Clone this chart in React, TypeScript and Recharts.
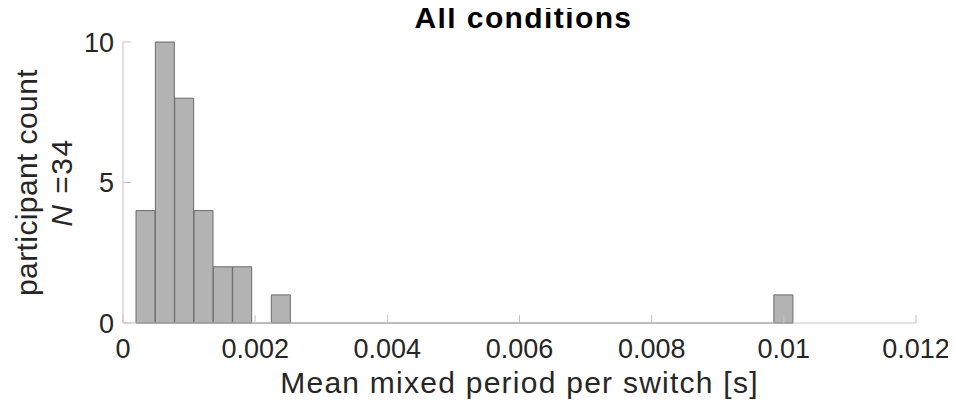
import { Bar, BarChart, Label, ReferenceLine, XAxis, YAxis } from 'recharts';

// histogram counts per bin (34 bins)
const counts = [
  4, 10, 8, 4, 2, 2, 0, 1, 0, 0,
  0, 0, 0, 0, 0, 0, 0, 0, 0, 0,
  0, 0, 0, 0, 0, 0, 0, 0, 0, 0,
  0, 0, 0, 1,
];
const binStart = 0.000197;
const binWidth = 0.0002925;
const xTicks = [0, 0.002, 0.004, 0.006, 0.008, 0.01, 0.012];
const yTicks = [0, 5, 10];

const data = counts.map((count, i) => ({ center: binStart + (i + 0.5) * binWidth, count }));
const binEnd = binStart + counts.length * binWidth;

const FONT = '"Liberation Sans", Arial, Helvetica, sans-serif';
const TEXT = '#262626';
const AXIS = '#c4c4c4';
const EDGE = '#6b6b6b';
const FILL = '#b3b3b3';

function XTick({ x, y, payload }: any) {
  return (
    <g>
      <line x1={x} x2={x} y1={y - 16} y2={y - 24} stroke={AXIS} />
      <text x={x} y={y} dy="0.71em" textAnchor="middle" fill={TEXT} fontSize={27} fontFamily={FONT}>
        {String(payload.value)}
      </text>
    </g>
  );
}

function YTick({ x, y, payload }: any) {
  return (
    <g>
      <line x1={x + 9} x2={x + 17} y1={y} y2={y} stroke={AXIS} />
      <text x={x} y={y} dy="0.36em" textAnchor="end" fill={TEXT} fontSize={27} fontFamily={FONT}>
        {payload.value}
      </text>
    </g>
  );
}

function YLabel({ viewBox }: any) {
  const cy = viewBox.y + viewBox.height / 2;
  const x1 = 37;
  const x2 = 72;
  return (
    <g fill={TEXT} fontSize={30} fontFamily={FONT}>
      <text x={x1} y={cy} textAnchor="middle" letterSpacing={0.4} transform={`rotate(-90, ${x1}, ${cy})`}>
        participant count
      </text>
      <text x={x2} y={cy} textAnchor="middle" letterSpacing={1.5} transform={`rotate(-90, ${x2}, ${cy})`}>
        <tspan fontStyle="italic">N</tspan> =34
      </text>
    </g>
  );
}

function XLabel({ viewBox }: any) {
  return (
    <text
      x={viewBox.x + viewBox.width / 2}
      y={393}
      textAnchor="middle"
      fill={TEXT}
      fontSize={30}
      letterSpacing={1.25}
      fontFamily={FONT}
    >
      Mean mixed period per switch [s]
    </text>
  );
}

export default function App() {
  return (
    <div style={{ position: 'relative', width: 956, height: 407, margin: '-8px 0 0 -8px', background: '#fff' }}>
      <div
        style={{
          position: 'absolute',
          left: 127,
          width: 793,
          top: 1,
          textAlign: 'center',
          fontFamily: FONT,
          fontWeight: 'bold',
          fontSize: 30,
          letterSpacing: 1.4,
          color: '#000',
          zIndex: 1,
        }}
      >
        All conditions
      </div>
      <BarChart
        width={956}
        height={407}
        data={data}
        margin={{ top: 42, right: 40, bottom: 0, left: 0 }}
        barCategoryGap={0}
        barGap={0}
      >
        <XAxis
          type="number"
          dataKey="center"
          domain={[0, 0.012]}
          ticks={xTicks}
          interval={0}
          allowDataOverflow
          height={84}
          tickSize={0}
          tickMargin={16}
          tick={<XTick />}
          axisLine={{ stroke: AXIS }}
          tickLine={false}
        >
          <Label content={<XLabel />} />
        </XAxis>
        <YAxis
          type="number"
          domain={[0, 10]}
          ticks={yTicks}
          interval={0}
          width={123}
          tickSize={0}
          tickMargin={9}
          tick={<YTick />}
          axisLine={{ stroke: AXIS }}
          tickLine={false}
        >
          <Label content={<YLabel />} />
        </YAxis>
        <Bar dataKey="count" fill={FILL} stroke={EDGE} strokeWidth={1} isAnimationActive={false} />
        <ReferenceLine
          segment={[{ x: binStart, y: 0 }, { x: binEnd, y: 0 }]}
          stroke={EDGE}
          strokeWidth={1}
        />
      </BarChart>
    </div>
  );
}
